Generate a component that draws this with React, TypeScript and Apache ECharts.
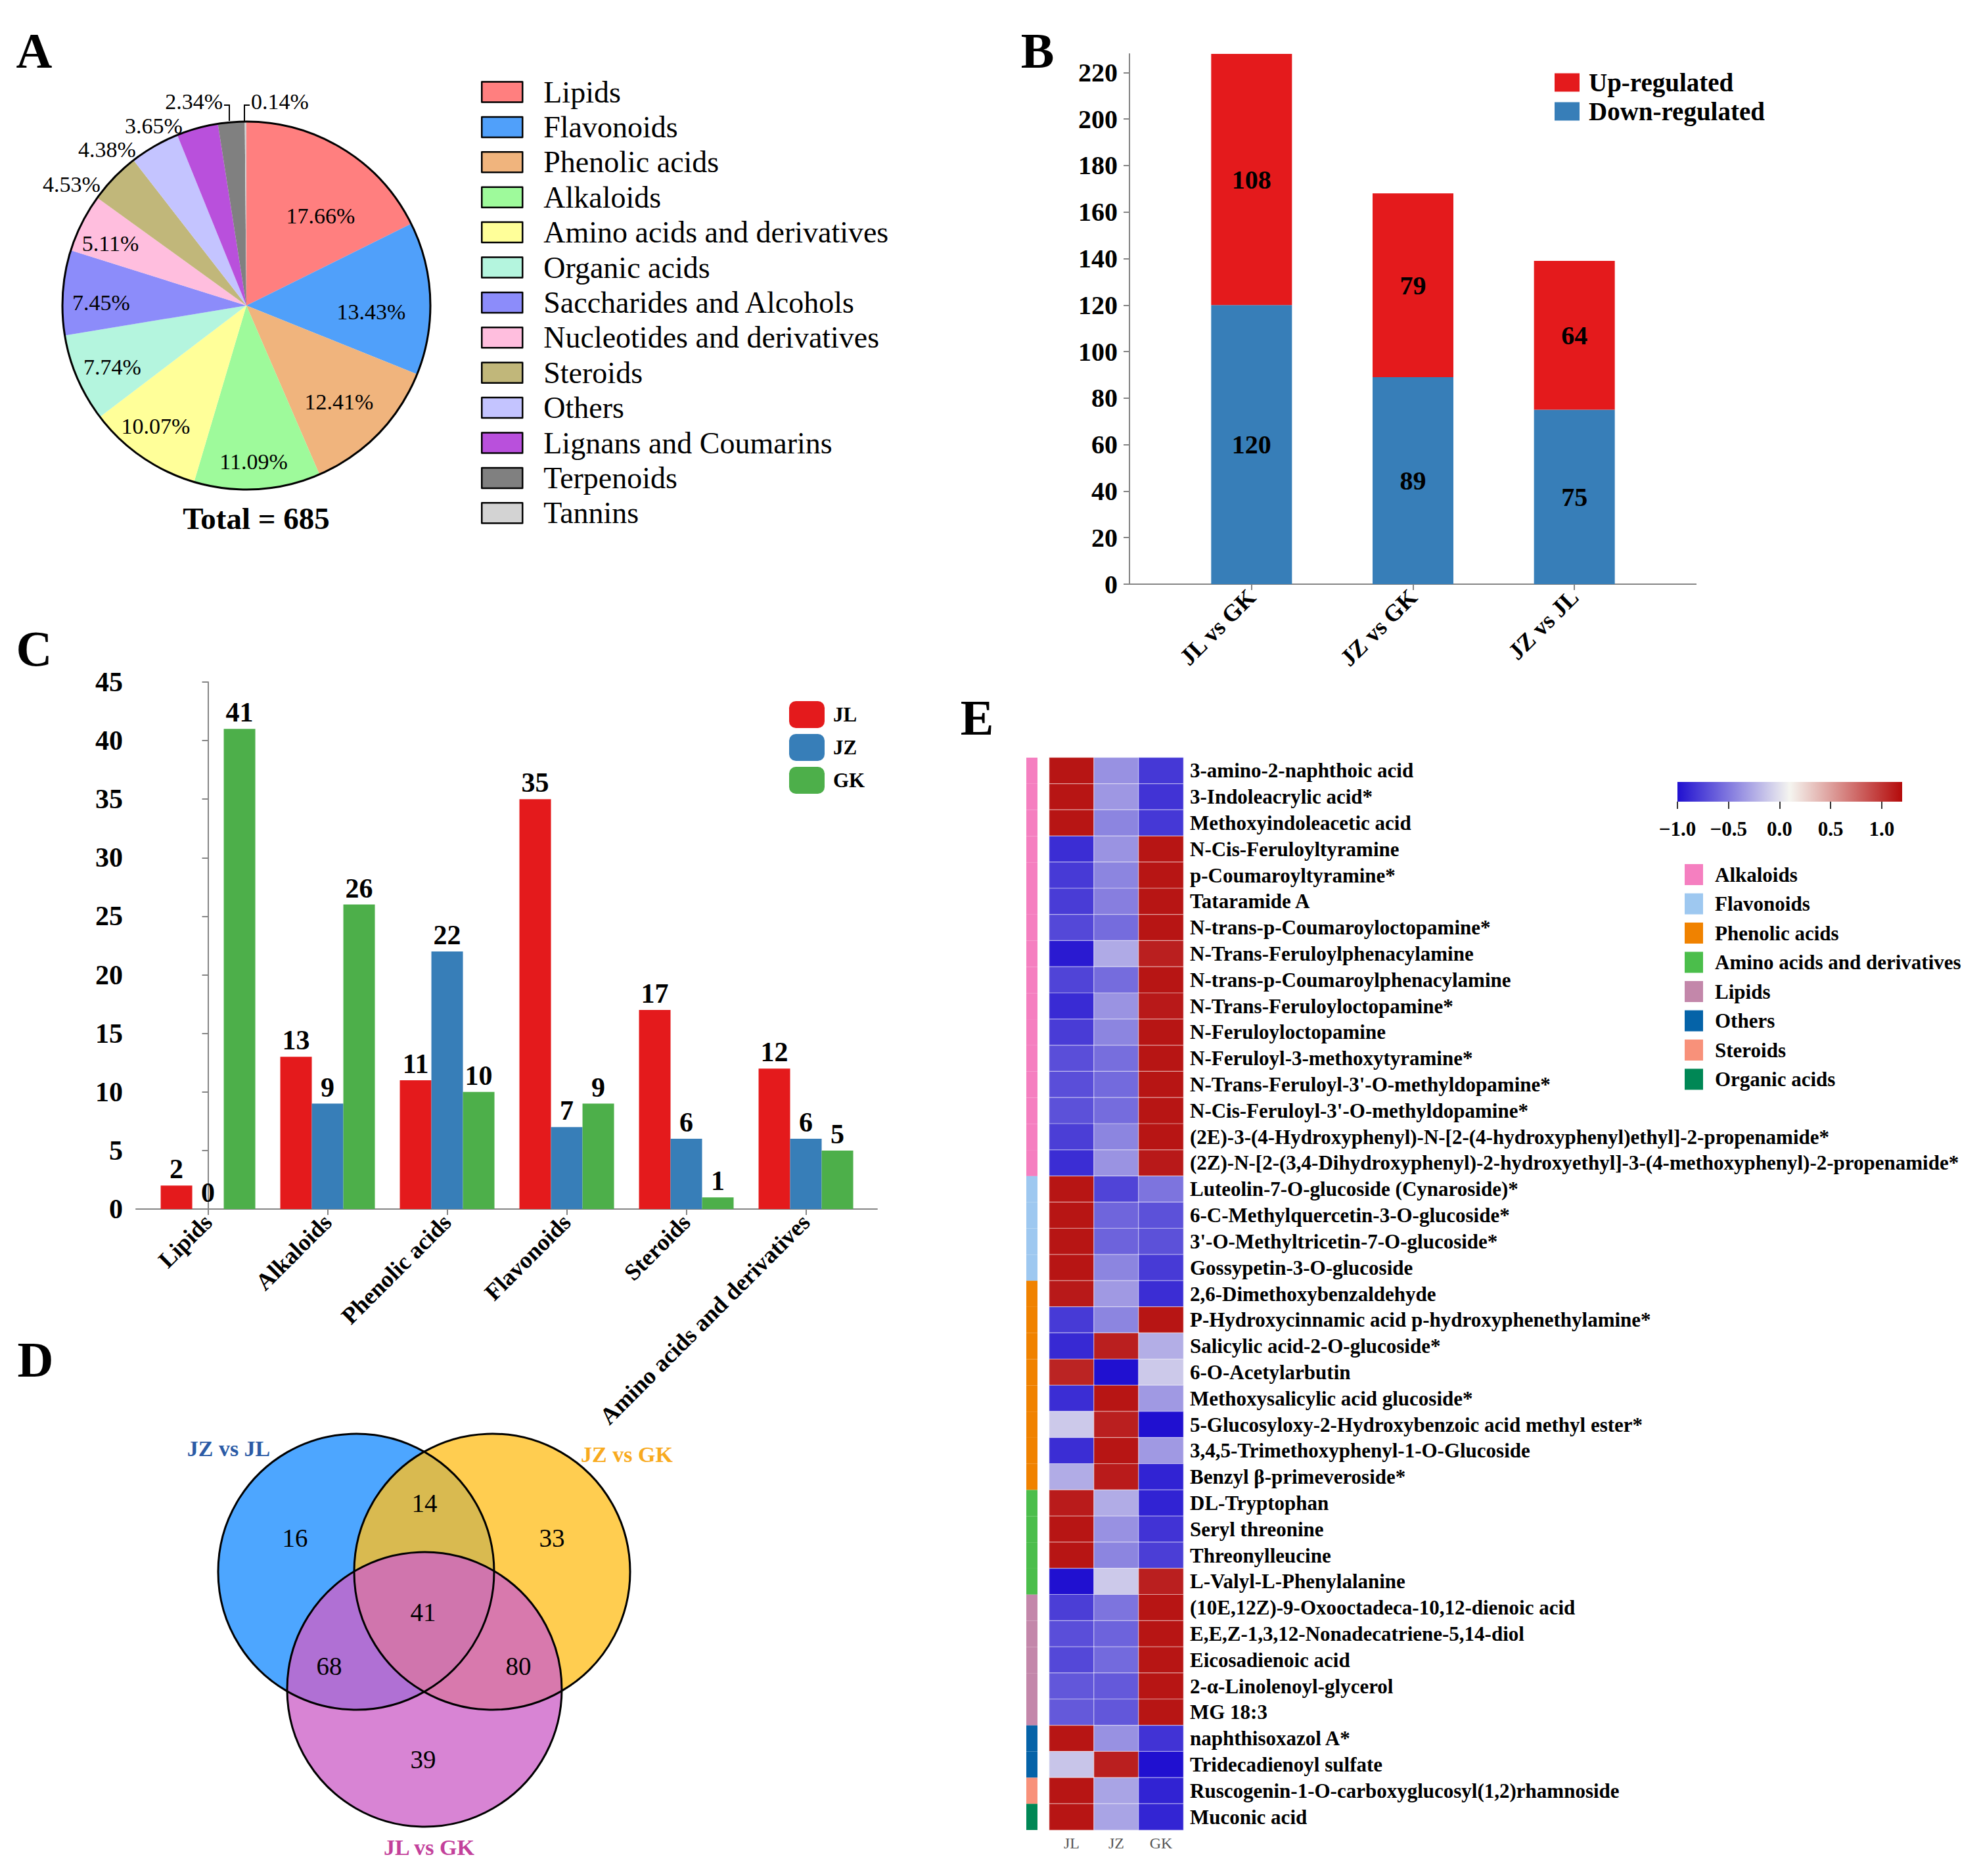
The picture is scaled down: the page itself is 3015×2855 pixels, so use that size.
import React, { useEffect, useRef } from 'react';
import * as echarts from 'echarts';

const FONT = 'Liberation Serif';

// ---------------- Panel A : composition pie ----------------
const pieNames = [
  'Lipids', 'Flavonoids', 'Phenolic acids', 'Alkaloids', 'Amino acids and derivatives',
  'Organic acids', 'Saccharides and Alcohols', 'Nucleotides and derivatives', 'Steroids',
  'Others', 'Lignans and Coumarins', 'Terpenoids', 'Tannins',
];
const piePercents = [17.66, 13.43, 12.41, 11.09, 10.07, 7.74, 7.45, 5.11, 4.53, 4.38, 3.65, 2.34, 0.14];
const pieColors = [
  '#FF7F7F', '#50A0FA', '#F0B47D', '#9EFA9B', '#FFFF99', '#B4F5DE', '#8C8CFA',
  '#FFBEDE', '#C1B77A', '#C4C4FF', '#B950DC', '#808080', '#D3D3D3',
];
const pieTotal = 685;

// ---------------- Panel B : up / down regulated ----------------
const bCategories = ['JL vs GK', 'JZ vs GK', 'JZ vs JL'];
const bUp = [108, 79, 64];
const bDown = [120, 89, 75];
const bTicks = [0, 20, 40, 60, 80, 100, 120, 140, 160, 180, 200, 220];

// ---------------- Panel C : class counts ----------------
const cCategories = ['Lipids', 'Alkaloids', 'Phenolic acids', 'Flavonoids', 'Steroids', 'Amino acids and derivatives'];
const cJL = [2, 13, 11, 35, 17, 12];
const cJZ = [0, 9, 22, 7, 6, 6];
const cGK = [41, 26, 10, 9, 1, 5];

// ---------------- Panel D : Venn ----------------
const vennSets = ['JZ vs JL', 'JZ vs GK', 'JL vs GK'];
// JZvsJL only, JZvsJL∩JZvsGK, JZvsGK only, all three, JZvsJL∩JLvsGK, JZvsGK∩JLvsGK, JLvsGK only
const vennCounts = [16, 14, 33, 41, 68, 80, 39];

// ---------------- Panel E : heatmap ----------------
const heatColumns = ['JL', 'JZ', 'GK'];
const metabolites = [
  '3-amino-2-naphthoic acid',
  '3-Indoleacrylic acid*',
  'Methoxyindoleacetic acid',
  'N-Cis-Feruloyltyramine',
  'p-Coumaroyltyramine*',
  'Tataramide A',
  'N-trans-p-Coumaroyloctopamine*',
  'N-Trans-Feruloylphenacylamine',
  'N-trans-p-Coumaroylphenacylamine',
  'N-Trans-Feruloyloctopamine*',
  'N-Feruloyloctopamine',
  'N-Feruloyl-3-methoxytyramine*',
  "N-Trans-Feruloyl-3'-O-methyldopamine*",
  "N-Cis-Feruloyl-3'-O-methyldopamine*",
  '(2E)-3-(4-Hydroxyphenyl)-N-[2-(4-hydroxyphenyl)ethyl]-2-propenamide*',
  '(2Z)-N-[2-(3,4-Dihydroxyphenyl)-2-hydroxyethyl]-3-(4-methoxyphenyl)-2-propenamide*',
  'Luteolin-7-O-glucoside (Cynaroside)*',
  '6-C-Methylquercetin-3-O-glucoside*',
  "3'-O-Methyltricetin-7-O-glucoside*",
  'Gossypetin-3-O-glucoside',
  '2,6-Dimethoxybenzaldehyde',
  'P-Hydroxycinnamic acid p-hydroxyphenethylamine*',
  'Salicylic acid-2-O-glucoside*',
  '6-O-Acetylarbutin',
  'Methoxysalicylic acid glucoside*',
  '5-Glucosyloxy-2-Hydroxybenzoic acid methyl ester*',
  '3,4,5-Trimethoxyphenyl-1-O-Glucoside',
  'Benzyl β-primeveroside*',
  'DL-Tryptophan',
  'Seryl threonine',
  'Threonylleucine',
  'L-Valyl-L-Phenylalanine',
  '(10E,12Z)-9-Oxooctadeca-10,12-dienoic acid',
  'E,E,Z-1,3,12-Nonadecatriene-5,14-diol',
  'Eicosadienoic acid',
  '2-α-Linolenoyl-glycerol',
  'MG 18:3',
  'naphthisoxazol A*',
  'Tridecadienoyl sulfate',
  'Ruscogenin-1-O-carboxyglucosyl(1,2)rhamnoside',
  'Muconic acid',
];
const metaboliteClass = [
  'Alkaloids', 'Alkaloids', 'Alkaloids', 'Alkaloids', 'Alkaloids', 'Alkaloids', 'Alkaloids', 'Alkaloids',
  'Alkaloids', 'Alkaloids', 'Alkaloids', 'Alkaloids', 'Alkaloids', 'Alkaloids', 'Alkaloids', 'Alkaloids',
  'Flavonoids', 'Flavonoids', 'Flavonoids', 'Flavonoids',
  'Phenolic acids', 'Phenolic acids', 'Phenolic acids', 'Phenolic acids',
  'Phenolic acids', 'Phenolic acids', 'Phenolic acids', 'Phenolic acids',
  'Amino acids and derivatives', 'Amino acids and derivatives', 'Amino acids and derivatives', 'Amino acids and derivatives',
  'Lipids', 'Lipids', 'Lipids', 'Lipids', 'Lipids',
  'Others', 'Others',
  'Steroids',
  'Organic acids',
];
const classOrder = ['Alkaloids', 'Flavonoids', 'Phenolic acids', 'Amino acids and derivatives', 'Lipids', 'Others', 'Steroids', 'Organic acids'];
const classColors = ['#F57FC0', '#9EC8F0', '#F08200', '#4BBE4B', '#C387AA', '#0563A8', '#F8917A', '#008755'];

const heatJL = [
  1.15, 1.15, 1.15, -0.86, -0.80, -0.79, -0.73, -0.95, -0.75, -0.87, -0.79, -0.70, -0.70, -0.69, -0.78, -0.86,
  1.15, 1.15, 1.15, 1.15,
  1.13, -0.80, -0.88, 1.08, -0.86, -0.11, -0.86, -0.25,
  1.12, 1.15, 1.15, -1.0,
  -0.78, -0.70, -0.73, -0.66, -0.65,
  1.15, -0.13,
  1.15,
  1.15,
];
const heatJZ = [
  -0.38, -0.35, -0.44, -0.37, -0.44, -0.47, -0.56, -0.26, -0.56, -0.37, -0.44, -0.55, -0.57, -0.56, -0.44, -0.37,
  -0.75, -0.59, -0.60, -0.44,
  -0.34, -0.44, 1.10, -1.0, 1.15, 1.10, 1.15, 1.12,
  -0.25, -0.38, -0.44, -0.11,
  -0.52, -0.60, -0.57, -0.65, -0.66,
  -0.38, 1.10,
  -0.29,
  -0.29,
];
const heatGK = [
  -0.81, -0.83, -0.81, 1.15, 1.15, 1.15, 1.15, 1.10, 1.15, 1.13, 1.15, 1.15, 1.15, 1.15, 1.15, 1.13,
  -0.52, -0.69, -0.69, -0.80,
  -0.86, 1.15, -0.24, -0.11, -0.34, -1.0, -0.34, -0.91,
  -0.91, -0.83, -0.78, 1.10,
  1.15, 1.15, 1.15, 1.15, 1.15,
  -0.83, -1.0,
  -0.91,
  -0.90,
];
const colorScaleMin = -1;
const colorScaleMax = 1.2;
const colorTicks = [-1, -0.5, 0, 0.5, 1];
const colorTickLabels = ['−1.0', '−0.5', '0.0', '0.5', '1.0'];
const HEAT_COLORS = ['#2010D0', '#F5F5F0', '#B40A0A'];

// ---------------- layout / style constants ----------------
const PIE_CENTER = [375, 465];
const PIE_R = 280;
// label anchor offsets from the pie centre [dx, dy, align]
const pieLabelSpots: [number, number, string][] = [
  [113, -137, 'center'], [190, 9, 'center'], [141, 146, 'center'], [11, 237, 'center'],
  [-138, 183, 'center'], [-204, 93, 'center'], [-221, -5, 'center'], [-207, -95, 'center'],
  [-266, -185, 'center'], [-212, -238, 'center'], [-141, -274, 'center'],
  [-36, -311, 'right'], [7, -311, 'left'],
];
const panelLetters: [string, number, number][] = [
  ['A', 52, 77], ['B', 1579, 77], ['C', 52, 987], ['D', 54, 2069], ['E', 1487, 1092],
];
const vennCircles = [
  { cx: 542, cy: 2392, r: 210, fill: '#4DA6FF' },
  { cx: 749, cy: 2392, r: 210, fill: 'rgba(255,192,33,0.79)' },
  { cx: 646, cy: 2571, r: 209, fill: 'rgba(205,96,200,0.775)' },
];
const vennSetLabelPos: [number, number, string][] = [
  [348, 2204, '#2B5BA6'], [954, 2213, '#F8AA1E'], [653, 2811, '#C3419B'],
];
const vennCountPos: [number, number][] = [
  [449, 2340], [646, 2287], [840, 2340], [644, 2453], [501, 2535], [789, 2535], [644, 2677],
];

// Panel B frame: axis line spans 1719..2582, the three bands span 1782..2519
const B_AXIS_LEFT = 1719;
const B_AXIS_RIGHT = 2582;
const B_BAND_LEFT = 1782;
const B_BAND_RIGHT = 2519;
const B_TOP = 82;
const B_BOTTOM = 889;

const AXIS_GRAY = '#858585';

function textEl(text: string, x: number, y: number, size: number, weight: string, fill: string, align = 'center') {
  return {
    type: 'text',
    x,
    y,
    z: 50,
    style: {
      text,
      fontSize: size,
      fontWeight: weight,
      fontFamily: FONT,
      fill,
      align,
      verticalAlign: 'middle',
      textAlign: align,
      textVerticalAlign: 'middle',
    },
  };
}

function buildOption(): any {
  const cMinX = -0.602;
  const cMaxX = 5.596;

  const heatData: any[] = [];
  metabolites.forEach((_, i) => {
    heatData.push([0, i, heatJL[i]]);
    heatData.push([1, i, heatJZ[i]]);
    heatData.push([2, i, heatGK[i]]);
  });

  const boldAxisLabel = (size: number) => ({ fontSize: size, fontWeight: 'bold', color: '#000', fontFamily: FONT });

  const series: any[] = [];
  // 0: pie
  series.push({
    type: 'pie',
    center: PIE_CENTER,
    radius: PIE_R,
    startAngle: 90,
    clockwise: true,
    silent: true,
    avoidLabelOverlap: false,
    itemStyle: { borderWidth: 0 },
    data: pieNames.map((n, i) => ({ name: n, value: piePercents[i], itemStyle: { color: pieColors[i] } })),
    label: {
      show: true,
      position: 'outside',
      formatter: (p: any) => Number(p.value).toFixed(2) + '%',
      fontSize: 34,
      color: '#000',
      fontFamily: FONT,
    },
    labelLine: { show: false },
    labelLayout: (p: any) => {
      const s = pieLabelSpots[p.dataIndex];
      return { x: PIE_CENTER[0] + s[0], y: PIE_CENTER[1] + s[1], align: s[2], verticalAlign: 'middle' };
    },
  });
  // 1-2: B stacked bars
  const bLabel = { show: true, position: 'inside', fontSize: 40, fontWeight: 'bold', color: '#000', fontFamily: FONT };
  series.push({
    type: 'bar', name: 'Down-regulated', xAxisIndex: 0, yAxisIndex: 0, stack: 'b', barWidth: 123,
    data: bDown, itemStyle: { color: '#377EB8' }, label: bLabel,
  });
  series.push({
    type: 'bar', name: 'Up-regulated', xAxisIndex: 0, yAxisIndex: 0, stack: 'b', barWidth: 123,
    data: bUp, itemStyle: { color: '#E41A1C' }, label: bLabel,
  });
  // 3-5: C grouped bars
  const cSeries: [string, number[], string][] = [['JL', cJL, '#E41A1C'], ['JZ', cJZ, '#377EB8'], ['GK', cGK, '#4DAF4A']];
  cSeries.forEach(([name, vals, color]) => {
    series.push({
      type: 'bar', name, xAxisIndex: 1, yAxisIndex: 1, barWidth: 48, barGap: '0%',
      data: vals.map((v, i) => [i, v]),
      itemStyle: { color },
      label: { show: true, position: 'top', distance: 4, formatter: (p: any) => p.value[1], fontSize: 42, fontWeight: 'bold', color: '#000', fontFamily: FONT },
    });
  });
  // 6: heatmap
  const heatIndex = series.length;
  series.push({
    type: 'heatmap', xAxisIndex: 2, yAxisIndex: 2, data: heatData,
    itemStyle: { borderColor: 'rgba(255,255,255,0.55)', borderWidth: 1.2 },
    emphasis: { disabled: true },
  });
  // 7..: class colour strip
  classOrder.forEach((c, k) => {
    series.push({
      type: 'bar', name: 'E:' + c, xAxisIndex: 3, yAxisIndex: 3, stack: 'cls', barCategoryGap: '0%',
      data: metabolites.map((_, i) => (metaboliteClass[i] === c ? 1 : '-')),
      itemStyle: { color: classColors[k] },
      silent: true,
    });
  });

  const graphic: any[] = [];
  panelLetters.forEach(([t, x, y]) => graphic.push(textEl(t, x, y, 76, 'bold', '#000')));
  graphic.push({ type: 'circle', z: 100, shape: { cx: PIE_CENTER[0], cy: PIE_CENTER[1], r: PIE_R }, style: { fill: 'none', stroke: '#000', lineWidth: 3 } });
  graphic.push({ type: 'polyline', z: 100, shape: { points: [[341, 160], [349, 160], [349, 184]] }, style: { fill: 'none', stroke: '#000', lineWidth: 2 } });
  graphic.push({ type: 'polyline', z: 100, shape: { points: [[380, 160], [372, 160], [372, 184]] }, style: { fill: 'none', stroke: '#000', lineWidth: 2 } });
  graphic.push(textEl(`Total = ${pieTotal}`, 390, 789, 47, 'bold', '#000'));
  // panel B x-axis line continues beyond the bands
  graphic.push({ type: 'line', z: 30, shape: { x1: B_AXIS_LEFT, y1: B_BOTTOM, x2: B_BAND_LEFT, y2: B_BOTTOM }, style: { stroke: AXIS_GRAY, lineWidth: 2 } });
  graphic.push({ type: 'line', z: 30, shape: { x1: B_BAND_RIGHT, y1: B_BOTTOM, x2: B_AXIS_RIGHT, y2: B_BOTTOM }, style: { stroke: AXIS_GRAY, lineWidth: 2 } });
  // Venn
  vennCircles.forEach((c, i) => graphic.push({ type: 'circle', z: 10 + i, shape: { cx: c.cx, cy: c.cy, r: c.r }, style: { fill: c.fill } }));
  vennCircles.forEach((c) => graphic.push({ type: 'circle', z: 20, shape: { cx: c.cx, cy: c.cy, r: c.r }, style: { fill: 'none', stroke: '#000', lineWidth: 3 } }));
  vennSets.forEach((s, i) => graphic.push(textEl(s, vennSetLabelPos[i][0], vennSetLabelPos[i][1], 34, 'bold', vennSetLabelPos[i][2])));
  vennCounts.forEach((n, i) => graphic.push(textEl(String(n), vennCountPos[i][0], vennCountPos[i][1], 39, 'normal', '#000')));
  // colour bar
  graphic.push({
    type: 'rect', z: 5,
    shape: { x: 2553, y: 1190, width: 342, height: 30 },
    style: {
      fill: new echarts.graphic.LinearGradient(0, 0, 1, 0, [
        { offset: 0, color: HEAT_COLORS[0] },
        { offset: 0.5, color: HEAT_COLORS[1] },
        { offset: 1, color: HEAT_COLORS[2] },
      ]),
    },
  });

  return {
    animation: false,
    backgroundColor: '#fff',
    textStyle: { fontFamily: FONT },
    grid: [
      { left: B_BAND_LEFT, top: B_TOP, width: B_BAND_RIGHT - B_BAND_LEFT, height: B_BOTTOM - B_TOP, outerBoundsMode: 'none' },
      { left: 207, top: 1038, width: 1128, height: 802, outerBoundsMode: 'none' },
      { left: 1597, top: 1153, width: 204, height: 1632, outerBoundsMode: 'none' },
      { left: 1562, top: 1153, width: 17, height: 1632, outerBoundsMode: 'none' },
      { left: 2553, top: 1190, width: 342, height: 30, outerBoundsMode: 'none' },
    ],
    xAxis: [
      {
        type: 'category', gridIndex: 0, data: bCategories,
        axisLine: { show: true, lineStyle: { color: AXIS_GRAY, width: 2 } },
        axisTick: { show: true, alignWithLabel: true, length: 9, lineStyle: { color: AXIS_GRAY, width: 2 } },
        axisLabel: { ...boldAxisLabel(36), rotate: 45, margin: 14, interval: 0 },
      },
      {
        type: 'value', gridIndex: 1, min: cMinX, max: cMaxX,
        splitLine: { show: false },
        axisLine: { show: true, lineStyle: { color: AXIS_GRAY, width: 2 } },
        axisTick: { show: true, customValues: [0, 1, 2, 3, 4, 5], length: 9, lineStyle: { color: AXIS_GRAY, width: 2 } },
        axisLabel: { ...boldAxisLabel(36), customValues: [0, 1, 2, 3, 4, 5], formatter: (v: number) => cCategories[Math.round(v)], rotate: 45, margin: 14, hideOverlap: false },
      },
      {
        type: 'category', gridIndex: 2, data: heatColumns,
        axisLine: { show: false }, axisTick: { show: false },
        axisLabel: { fontSize: 24, color: '#555', fontFamily: FONT, margin: 8, interval: 0 },
      },
      { type: 'value', gridIndex: 3, min: 0, max: 1, show: false },
      {
        type: 'value', gridIndex: 4, min: colorScaleMin, max: colorScaleMax,
        splitLine: { show: false },
        axisLine: { show: false },
        axisTick: { show: true, customValues: colorTicks, length: 11, lineStyle: { color: '#333', width: 2 } },
        axisLabel: { ...boldAxisLabel(31), customValues: colorTicks, formatter: (v: number) => colorTickLabels[colorTicks.indexOf(v)] ?? '', margin: 26 },
      },
    ],
    yAxis: [
      {
        type: 'value', gridIndex: 0, min: 0, max: bDown[0] + bUp[0], offset: B_BAND_LEFT - B_AXIS_LEFT,
        splitLine: { show: false },
        axisLine: { show: true, lineStyle: { color: AXIS_GRAY, width: 2 } },
        axisTick: { show: true, customValues: bTicks, length: 9, lineStyle: { color: AXIS_GRAY, width: 2 } },
        axisLabel: { ...boldAxisLabel(40), customValues: bTicks, margin: 18 },
      },
      {
        type: 'value', gridIndex: 1, min: 0, max: 45, interval: 5,
        splitLine: { show: false },
        axisLine: { show: true, lineStyle: { color: AXIS_GRAY, width: 2 } },
        axisTick: { show: true, length: 9, lineStyle: { color: AXIS_GRAY, width: 2 } },
        axisLabel: { ...boldAxisLabel(42), margin: 20 },
      },
      {
        type: 'category', gridIndex: 2, data: metabolites, inverse: true, position: 'right',
        axisLine: { show: false }, axisTick: { show: false },
        axisLabel: { ...boldAxisLabel(31), margin: 10, interval: 0 },
      },
      { type: 'category', gridIndex: 3, data: metabolites, inverse: true, show: false },
      { type: 'value', gridIndex: 4, show: false },
    ],
    visualMap: {
      type: 'continuous', show: false, seriesIndex: heatIndex, dimension: 2,
      min: colorScaleMin, max: colorScaleMax,
      inRange: { color: HEAT_COLORS },
    },
    legend: [
      {
        left: 727, top: 112, orient: 'vertical', data: pieNames, icon: 'rect', selectedMode: false,
        itemWidth: 62, itemHeight: 31, itemGap: 7.4,
        itemStyle: { borderColor: '#000', borderWidth: 2.5 },
        textStyle: { fontSize: 46, lineHeight: 46, color: '#000', fontFamily: FONT, padding: [0, 0, 0, 27] },
      },
      {
        left: 2361, top: 101, orient: 'vertical', data: ['Up-regulated', 'Down-regulated'], icon: 'rect', selectedMode: false,
        itemWidth: 38, itemHeight: 28, itemGap: 5,
        textStyle: { fontSize: 39, lineHeight: 39, fontWeight: 'bold', color: '#000', fontFamily: FONT, padding: [0, 0, 0, 9] },
      },
      {
        left: 1196, top: 1062, orient: 'vertical', data: ['JL', 'JZ', 'GK'], icon: 'roundRect', selectedMode: false,
        itemWidth: 54, itemHeight: 41, itemGap: 9,
        textStyle: { fontSize: 31, lineHeight: 31, fontWeight: 'bold', color: '#000', fontFamily: FONT, padding: [0, 0, 0, 8] },
      },
      {
        left: 2559, top: 1310, orient: 'vertical', data: classOrder.map((c) => 'E:' + c), icon: 'rect', selectedMode: false,
        formatter: (n: string) => n.slice(2),
        itemWidth: 28, itemHeight: 32, itemGap: 12.5,
        textStyle: { fontSize: 31, lineHeight: 31, fontWeight: 'bold', color: '#000', fontFamily: FONT, padding: [0, 0, 0, 13] },
      },
    ],
    graphic,
    series,
  };
}

export default function App() {
  const ref = useRef<HTMLDivElement>(null);
  useEffect(() => {
    document.body.style.margin = '0';
    const chart = echarts.init(ref.current as HTMLDivElement, null, { renderer: 'svg' });
    chart.setOption(buildOption());
    return () => chart.dispose();
  }, []);
  return <div ref={ref} style={{ width: 3015, height: 2855, background: '#fff' }} />;
}
